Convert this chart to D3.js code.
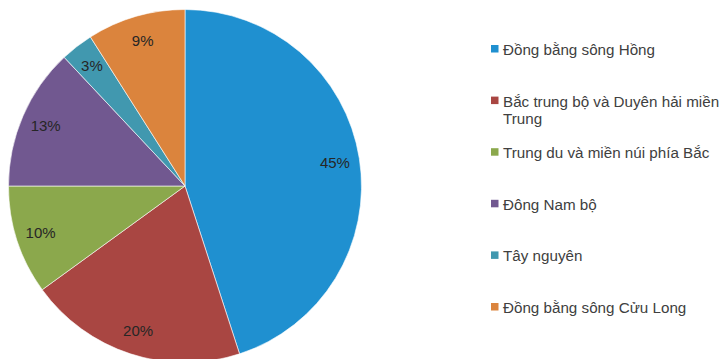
<!DOCTYPE html>
<html>
<head>
<meta charset="utf-8">
<script src="https://cdn.jsdelivr.net/npm/d3@7"></script>
<style>
  html, body { margin: 0; padding: 0; background: #fff; }
  svg { display: block; font-family: "Liberation Sans", Arial, sans-serif; }
</style>
</head>
<body>
<svg id="chart" width="722" height="359"></svg>
<script>
// Regions and their shares (%)
const regions = [
  "Đồng bằng sông Hồng",
  "Bắc trung bộ và Duyên hải miền Trung",
  "Trung du và miền núi phía Bắc",
  "Đông Nam bộ",
  "Tây nguyên",
  "Đồng bằng sông Cửu Long"
];
const shares = [45, 20, 10, 13, 3, 9];
const colors = ["#1F90D0", "#A94642", "#8BA84C", "#715890", "#4198AF", "#DB843D"];
// Legend entries broken into lines
const legendLines = [
  ["Đồng bằng sông Hồng"],
  ["Bắc trung bộ và Duyên hải miền", "Trung"],
  ["Trung du và miền núi phía Bắc"],
  ["Đông Nam bộ"],
  ["Tây nguyên"],
  ["Đồng bằng sông Cửu Long"]
];

const svg = d3.select("#chart");
const cx = 185, cy = 186, R = 176.5;

const data = regions.map((name, i) => ({ name, value: shares[i], color: colors[i] }));

const pie = d3.pie().sort(null).value(d => d.value);
const arc = d3.arc().innerRadius(0).outerRadius(R);
const labelArc = d3.arc().innerRadius(R * 0.86).outerRadius(R * 0.86);

const g = svg.append("g").attr("transform", `translate(${cx},${cy})`);
const arcs = pie(data);

g.selectAll("path.slice")
  .data(arcs)
  .join("path")
  .attr("class", "slice")
  .attr("d", arc)
  .attr("fill", d => d.data.color)
  .attr("stroke", "#ffffff")
  .attr("stroke-width", 0.6);

g.selectAll("text.pct")
  .data(arcs)
  .join("text")
  .attr("class", "pct")
  .attr("transform", d => `translate(${labelArc.centroid(d)})`)
  .attr("text-anchor", "middle")
  .attr("dy", "0.36em")
  .attr("font-size", 15)
  .attr("fill", "#262626")
  .text(d => d.data.value + "%");

// Legend
const legend = svg.append("g").attr("transform", "translate(491,55)");
const rowStep = 51.6, lineStep = 17;
const item = legend.selectAll("g.item")
  .data(data)
  .join("g")
  .attr("class", "item")
  .attr("transform", (d, i) => `translate(0,${i * rowStep})`);

item.append("rect")
  .attr("x", 0).attr("y", -10)
  .attr("width", 7.5).attr("height", 7.5)
  .attr("fill", d => d.color);

item.append("text")
  .attr("x", 12)
  .attr("font-size", 15.2)
  .attr("fill", "#404040")
  .selectAll("tspan")
  .data((d, i) => legendLines[i])
  .join("tspan")
  .attr("x", 12)
  .attr("dy", (l, j) => j === 0 ? 0 : lineStep)
  .text(l => l);
</script>
</body>
</html>
